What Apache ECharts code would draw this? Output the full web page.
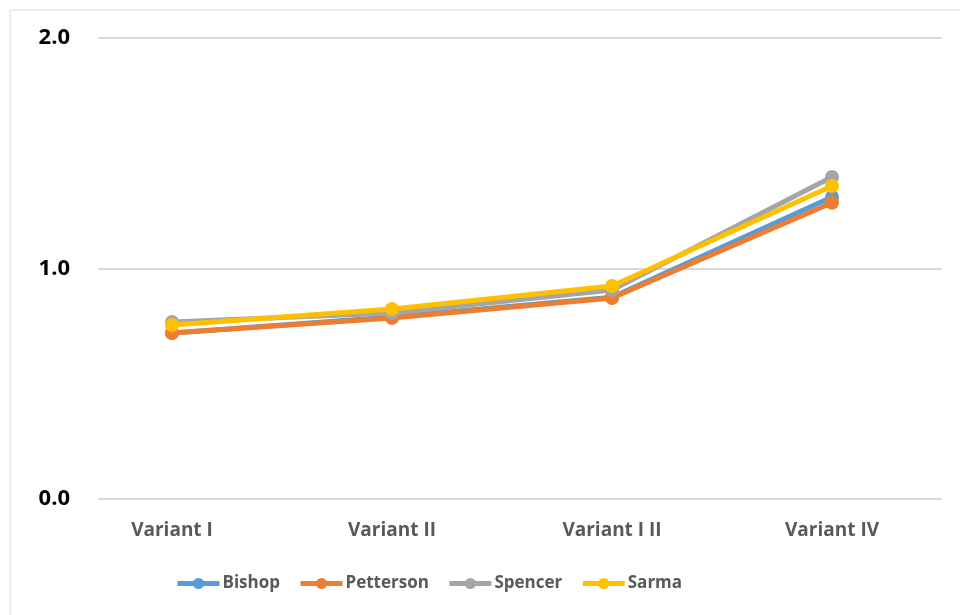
<!DOCTYPE html>
<html>
<head>
<meta charset="utf-8">
<script src="https://cdn.jsdelivr.net/npm/echarts@6/dist/echarts.min.js"></script>
<style>
html, body { margin: 0; padding: 0; background: #fff; }
#chart { width: 960px; height: 615px; }
</style>
</head>
<body>
<div id="chart"></div>
<script>
var categories = ['Variant I', 'Variant II', 'Variant I II', 'Variant IV'];
var bishop = [0.72, 0.79, 0.875, 1.31];
var petterson = [0.72, 0.785, 0.872, 1.285];
var spencer = [0.768, 0.807, 0.907, 1.397];
var sarma = [0.755, 0.824, 0.924, 1.358];

var names = ['Bishop', 'Petterson', 'Spencer', 'Sarma'];
var values = [bishop, petterson, spencer, sarma];
var colors = ['#5B9BD5', '#ED7D31', '#A5A5A5', '#FFC000'];

myChart = echarts.init(document.getElementById('chart'));

var series = [];
for (var i = 0; i < names.length; i++) {
    series.push({
        name: names[i],
        type: 'line',
        xAxisIndex: 1,
        yAxisIndex: 1,
        data: values[i],
        symbol: 'circle',
        symbolSize: 14,
        lineStyle: { width: 5, color: colors[i] },
        itemStyle: { color: colors[i] },
        z: 2 + i
    });
}

option = {
    animation: false,
    graphic: [{
        type: 'rect',
        shape: { x: 10, y: 10, width: 960, height: 620 },
        style: { fill: 'none', stroke: '#d9d9d9', lineWidth: 1 }
    }],
    grid: [
        { left: 98, right: 18, top: 38, bottom: 116 },
        { left: 62, right: 18, top: 38, bottom: 116 }
    ],
    legend: {
        bottom: 18,
        left: 170,
        itemWidth: 42,
        itemHeight: 14,
        itemGap: 18,
        lineStyle: { width: 5 },
        textStyle: { fontFamily: 'Open Sans', fontWeight: 'bold', fontSize: 17, color: '#595959', padding: [0, 0, 0, -2] },
        data: names
    },
    xAxis: [
        { type: 'category', gridIndex: 0, data: categories, show: false },
        {
            type: 'category',
            gridIndex: 1,
            data: categories,
            axisLine: { show: false },
            axisTick: { show: false },
            axisLabel: { margin: 22, fontFamily: 'Open Sans', fontWeight: 'bold', fontSize: 19, color: '#595959' }
        }
    ],
    yAxis: [
        {
            type: 'value',
            gridIndex: 0,
            min: 0,
            max: 2,
            interval: 1,
            axisLine: { show: false },
            axisTick: { show: false },
            splitLine: { lineStyle: { color: '#d9d9d9', width: 2 } },
            axisLabel: {
                margin: 28,
                fontFamily: 'Open Sans', fontWeight: 'bold', fontSize: 22, color: '#000',
                formatter: function (v) { return v.toFixed(1); }
            }
        },
        { type: 'value', gridIndex: 1, min: 0, max: 2, show: false }
    ],
    series: series
};

myChart.setOption(option);
</script>
</body>
</html>
